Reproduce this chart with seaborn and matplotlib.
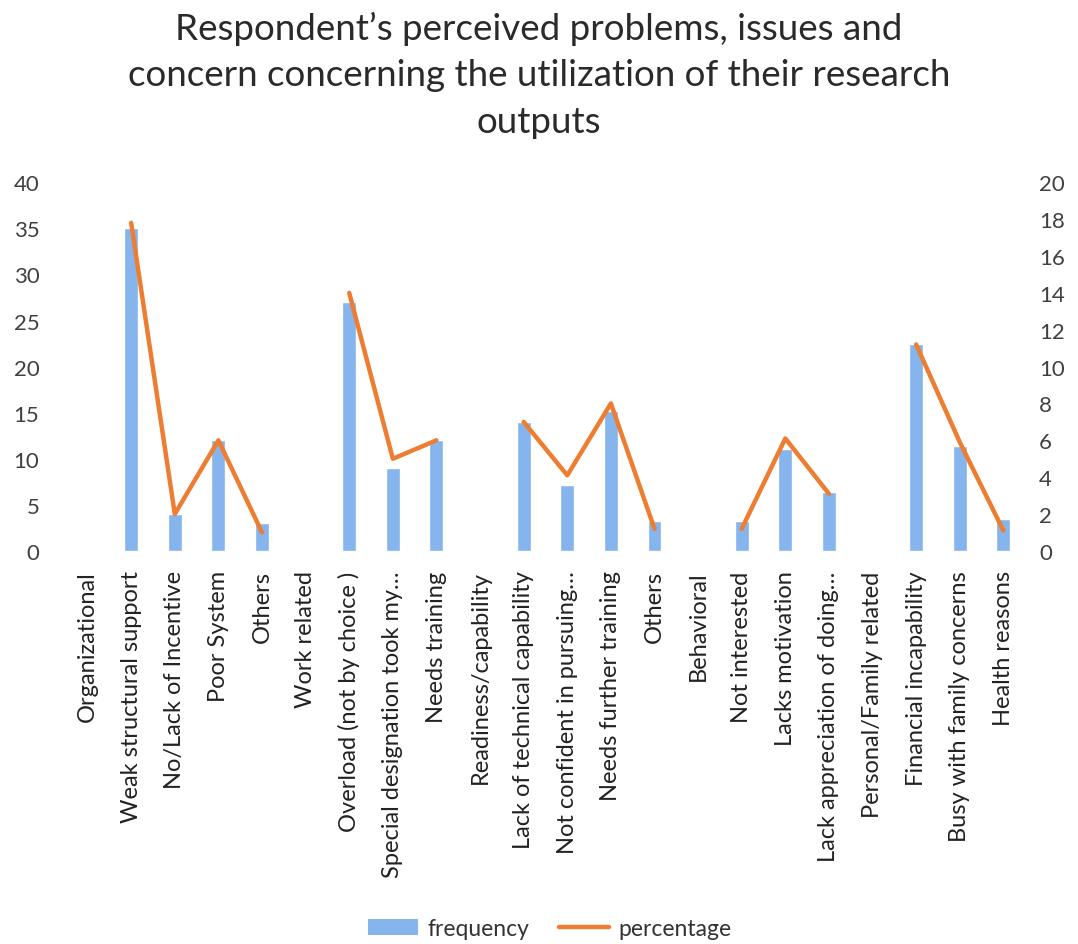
import numpy as np
import pandas as pd
import matplotlib
matplotlib.use("Agg")
import matplotlib.pyplot as plt
import seaborn as sns
from matplotlib.patches import Patch
from matplotlib.lines import Line2D

categories = ["Organizational", "Weak structural support", "No/Lack of Incentive", "Poor System",
              "Others", "Work related", "Overload (not by choice )", "Special designation took my\u2026",
              "Needs training", "Readiness/capability", "Lack of technical capability",
              "Not confident in pursuing\u2026", "Needs further training", "Others", "Behavioral",
              "Not interested", "Lacks motivation", "Lack appreciation of doing\u2026",
              "Personal/Family related", "Financial incapability", "Busy with family concerns",
              "Health reasons"]
frequency = [0, 35, 4, 12, 3, 0, 27, 9, 12, 0, 14, 7.2, 15.2, 3.2, 0, 3.2, 11.1, 6.4, 0, 22.4, 11.4, 3.5]
percentage = [np.nan, 17.8, 2.0, 6.0, 1.0, np.nan, 14.0, 5.0, 6.0, np.nan, 7.0, 4.1, 8.0, 1.2,
              np.nan, 1.2, 6.1, 3.1, np.nan, 11.2, 5.9, 1.1]
groups = [0, 0, 0, 0, 0, 1, 1, 1, 1, 2, 2, 2, 2, 2, 3, 3, 3, 3, 4, 4, 4, 4]

sns.set_theme(style="white")
plt.rcParams['font.family'] = ['Lato', 'DejaVu Sans']

BLUE = "#86b4ec"
ORANGE = "#ed7d31"
TXT = "#404040"

fig = plt.figure(figsize=(10.78, 9.45), dpi=100)
fig.patch.set_facecolor("white")
ax = fig.add_axes([0.061, 0.416, 0.890, 0.390])
ax2 = ax.twinx()

idx = list(range(len(categories)))
df = pd.DataFrame({"pos": idx, "frequency": frequency, "percentage": percentage, "grp": groups})

sns.barplot(data=df, x="pos", y="frequency", ax=ax, color=BLUE, width=0.32,
            saturation=1, order=idx)
line_df = df.dropna(subset=["percentage"])
sns.lineplot(data=line_df, x="pos", y="percentage", units="grp", estimator=None,
             ax=ax2, color=ORANGE, linewidth=3.2)

ax.set_xlim(-0.5, len(categories) - 0.5)
ax2.set_xlim(-0.5, len(categories) - 0.5)
ax.set_ylim(0, 40)
ax2.set_ylim(0, 20)
ax.set_yticks(range(0, 41, 5))
ax2.set_yticks(range(0, 21, 2))
ax.set_xticks(idx)
ax.set_xticklabels(categories, rotation=90, ha="center", va="top", fontsize=17, color="#222222")
ax.tick_params(axis="y", labelsize=16, labelcolor=TXT, length=0, pad=19)
ax2.tick_params(axis="y", labelsize=16, labelcolor=TXT, length=0, pad=10)
ax.tick_params(axis="x", length=0, pad=14)
for a in (ax, ax2):
    for s in a.spines.values():
        s.set_visible(False)
    a.set_xlabel("")
    a.set_ylabel("")
    a.grid(False)
ax.set_facecolor("none")

fig.text(0.5, 0.988, "Respondent\u2019s perceived problems, issues and\nconcern concerning the utilization of their research\noutputs",
         ha="center", va="top", fontsize=26.5, color="#2a2a2a", linespacing=1.5)

handles = [Patch(facecolor=BLUE, edgecolor="none"), Line2D([0], [0], color=ORANGE, linewidth=3.2)]
fig.legend(handles, ["frequency", "percentage"], loc="center", bbox_to_anchor=(0.51, 0.016),
           ncol=2, frameon=False, fontsize=16.5, handlelength=2.2, handletextpad=0.4,
           columnspacing=1.3, labelcolor="#333333")

fig.savefig("out.png", dpi=100, facecolor="white")
